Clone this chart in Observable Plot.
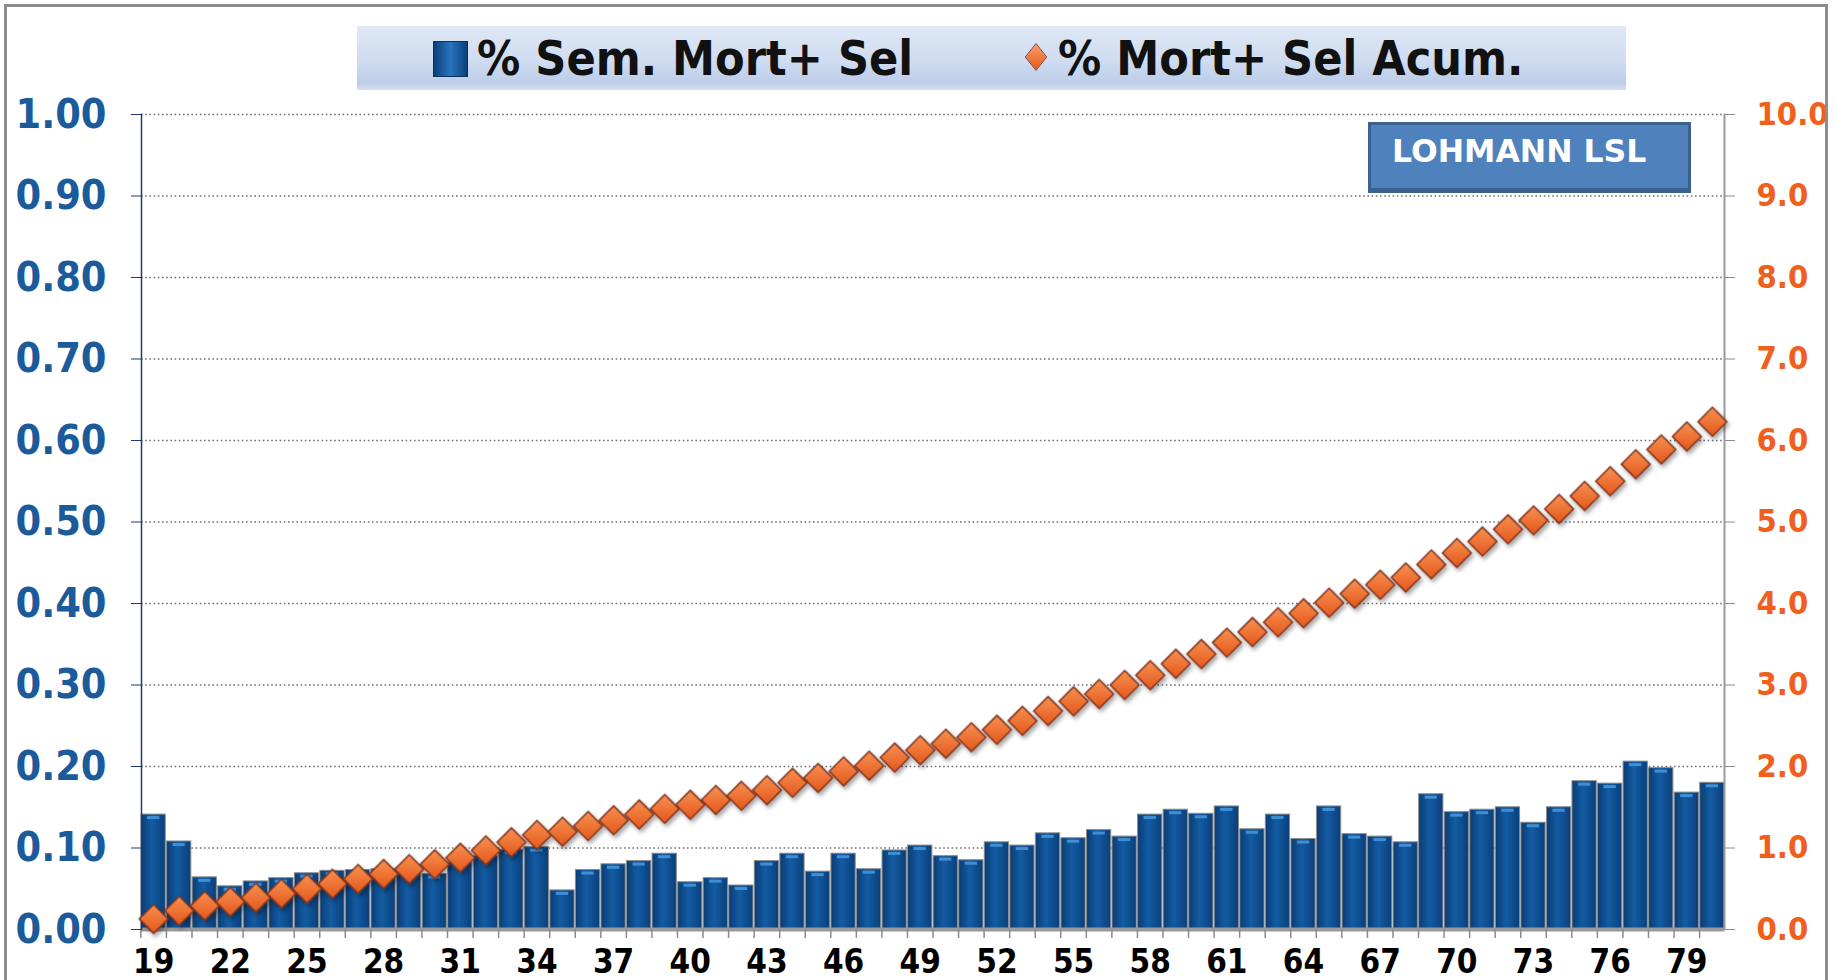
<!DOCTYPE html>
<html>
<head>
<meta charset="utf-8">
<script src="https://cdn.jsdelivr.net/npm/d3@7"></script>
<script src="https://cdn.jsdelivr.net/npm/@observablehq/plot@0.6"></script>
<style>
  html, body { margin: 0; padding: 0; overflow: hidden; background: #fff; }
  #wrap { position: relative; width: 1837px; height: 980px; overflow: hidden; }
  #frame { position: absolute; left: 4px; top: 4px; width: 1824px; height: 1000px; border: 3px solid #8c8c8c; box-sizing: border-box; pointer-events: none; }
  #chart { position: absolute; left: 0; top: 0; }
  #legend { position: absolute; left: 357px; top: 26px; width: 1269px; height: 64px;
    background: linear-gradient(to bottom, #dfe8f6 0%, #cfdcf1 55%, #bccde9 90%, #d6e1f2 100%);
    font-family: "DejaVu Sans Condensed", "DejaVu Sans", sans-serif; font-weight: bold; font-size: 48px; color: #111; }
  .lg-item { position: absolute; top: 0; height: 64px; line-height: 64px; white-space: nowrap; }
  #sw-bar { position: absolute; left: 76px; top: 15px; width: 35px; height: 36px;
    background: linear-gradient(to right, #0b3f7a, #2a74bf 50%, #0b3f7a); border: 1px solid #0a305c; box-sizing: border-box; }
  #sw-dia { position: absolute; left: 669px; top: 21px; width: 20px; height: 20px; transform: scaleX(0.8) rotate(45deg);
    background: linear-gradient(135deg, #f8a06a, #e8581b); border: 1px solid #8a3a1e; box-sizing: border-box; }
  #badge { position: absolute; left: 1368px; top: 122px; width: 323px; height: 71px;
    background: #4f81bd; border: 3px solid #3a6192; border-bottom-width: 5px; box-sizing: border-box;
    font-family: "DejaVu Sans", sans-serif; font-weight: bold; font-size: 31.5px; color: #fff;
    padding-left: 21px; line-height: 52px; white-space: nowrap; }
</style>
</head>
<body>
<div id="wrap">
  <div id="chart"></div>
  <div id="legend">
    <div id="sw-bar"></div>
    <div class="lg-item" style="left:120px;">% Sem. Mort+ Sel</div>
    <div id="sw-dia"></div>
    <div class="lg-item" style="left:701px;">% Mort+ Sel Acum.</div>
  </div>
  <div id="badge">LOHMANN LSL</div>
  <div id="frame"></div>
</div>
<script>
// ---- data ----
const ages = [19,20,21,22,23,24,25,26,27,28,29,30,31,32,33,34,35,36,37,38,39,40,
  41,42,43,44,45,46,47,48,49,50,51,52,53,54,55,56,57,58,59,60,61,62,63,64,65,66,67,68,69,70,
  71,72,73,74,75,76,77,78,79,80];

// % Sem. Mort+ Sel (left axis, 0–1)
const weeklyPct = [0.141,0.108,0.064,0.053,0.059,0.063,0.069,0.072,0.073,0.074,0.075,0.068,
  0.082,0.090,0.098,0.101,0.048,0.073,0.080,0.084,0.093,0.058,
  0.063,0.054,0.084,0.093,0.071,0.093,0.074,0.097,0.103,0.090,
  0.085,0.107,0.103,0.118,0.112,0.122,0.114,0.141,0.147,0.142,
  0.151,0.123,0.141,0.111,0.151,0.117,0.114,0.107,0.166,0.144,
  0.147,0.150,0.131,0.150,0.182,0.179,0.206,0.198,0.168,0.180];

// % Mort+ Sel Acum. (right axis, 0–10)
const cumulativePct = [0.13,0.23,0.29,0.34,0.39,0.44,0.50,0.56,0.62,0.68,0.74,0.80,
  0.88,0.97,1.07,1.16,1.20,1.27,1.34,1.41,1.48,1.53,
  1.59,1.64,1.71,1.80,1.86,1.94,2.01,2.11,2.20,2.28,
  2.36,2.45,2.56,2.68,2.80,2.89,3.00,3.12,3.26,3.38,
  3.52,3.65,3.77,3.88,4.01,4.12,4.23,4.32,4.48,4.62,
  4.76,4.91,5.02,5.16,5.32,5.50,5.71,5.89,6.05,6.23];

const leftTicks = [0,0.1,0.2,0.3,0.4,0.5,0.6,0.7,0.8,0.9,1.0];
const rightTicks = [0,1,2,3,4,5,6,7,8,9,10];
const xTickLabels = [19,22,25,28,31,34,37,40,43,46,49,52,55,58,61,64,67,70,73,76,79];

// ---- chart ----
const rows = ages.map((a, i) => ({age: a, weekly: weeklyPct[i], cum: cumulativePct[i]}));

const W = 1837, H = 980, mL = 141, mR = 113, mT = 114, mB = 51;
const halfStep = (W - mL - mR) / ages.length / 2;
const rightMax = 10;
const FONT = "'DejaVu Sans Condensed','DejaVu Sans',sans-serif";

function defs() {
  const d = d3.create("svg:defs");
  const g = d.append("linearGradient").attr("id", "barGrad").attr("x1", 0).attr("x2", 1).attr("y1", 0).attr("y2", 0);
  g.append("stop").attr("offset", "0%").attr("stop-color", "#0a3c74");
  g.append("stop").attr("offset", "45%").attr("stop-color", "#135ca3");
  g.append("stop").attr("offset", "100%").attr("stop-color", "#0a3f7a");
  const o = d.append("linearGradient").attr("id", "diaGrad").attr("x1", 0).attr("x2", 0).attr("y1", 0).attr("y2", 1);
  o.append("stop").attr("offset", "0%").attr("stop-color", "#f79150");
  o.append("stop").attr("offset", "100%").attr("stop-color", "#e5571c");
  const f = d.append("filter").attr("id", "shadow").attr("x", "-50%").attr("y", "-50%").attr("width", "200%").attr("height", "200%");
  f.append("feDropShadow").attr("dx", 2).attr("dy", 3).attr("stdDeviation", 2).attr("flood-color", "#000").attr("flood-opacity", 0.35);
  return d.node();
}

const chart = Plot.plot({
  width: W, height: H,
  marginLeft: mL, marginRight: mR, marginTop: mT, marginBottom: mB,
  style: {background: "transparent", fontFamily: FONT, overflow: "visible"},
  x: {type: "band", domain: ages, paddingInner: 0.05, paddingOuter: 0, axis: null},
  y: {domain: [0, 1], axis: null},
  marks: [
    defs,
    Plot.gridY(leftTicks.slice(1), {stroke: "#6f6f6f", strokeOpacity: 1, strokeWidth: 1.6, strokeDasharray: "1.6,2.6"}),
    Plot.barY(rows, {x: "age", y: "weekly", fill: "url(#barGrad)", stroke: "#8d8d8d", strokeWidth: 1}),
    Plot.tickY(rows, {x: "age", y: "weekly", stroke: "#3f8fd6", strokeWidth: 3, inset: 6, dy: 3}),
    Plot.ruleY([0], {stroke: "#9a9a9a", strokeWidth: 4}),
    Plot.axisX({ticks: ages, tickSize: 9, tickFormat: () => "", dx: -halfStep, stroke: "#8a8a8a", strokeWidth: 1.5, label: null}),
    Plot.axisX({ticks: xTickLabels, tickSize: 0, tickPadding: 20, fontSize: 33, fontWeight: "bold", fill: "#000", label: null}),
    Plot.axisY({ticks: leftTicks, tickFormat: d => d.toFixed(2), tickSize: 10, tickPadding: 25,
      fontSize: 41, fontWeight: "bold", fill: "#1b5b9c", stroke: "#1c3b73", label: null}),
    Plot.axisY({anchor: "right", ticks: rightTicks.map(v => v / rightMax), tickFormat: d => (d * rightMax).toFixed(1),
      tickSize: 10, tickPadding: 22, fontSize: 32.5, fontWeight: "bold", fill: "#f0601c", stroke: "#8a8a8a", label: null}),
    Plot.frame({anchor: "left", stroke: "#1c3b73", strokeWidth: 1.5}),
    Plot.frame({anchor: "right", stroke: "#9a9a9a", strokeWidth: 2}),
    Plot.dot(rows, {x: "age", y: d => d.cum / rightMax, symbol: "diamond2", r: 13,
      fill: "url(#diaGrad)", stroke: "#7e3420", strokeWidth: 1.5})
  ]
});
document.getElementById("chart").appendChild(chart);
// soft drop shadow under the diamonds like the original
chart.querySelectorAll("g[aria-label='dot']").forEach(g => g.setAttribute("filter", "url(#shadow)"));
</script>
</body>
</html>
